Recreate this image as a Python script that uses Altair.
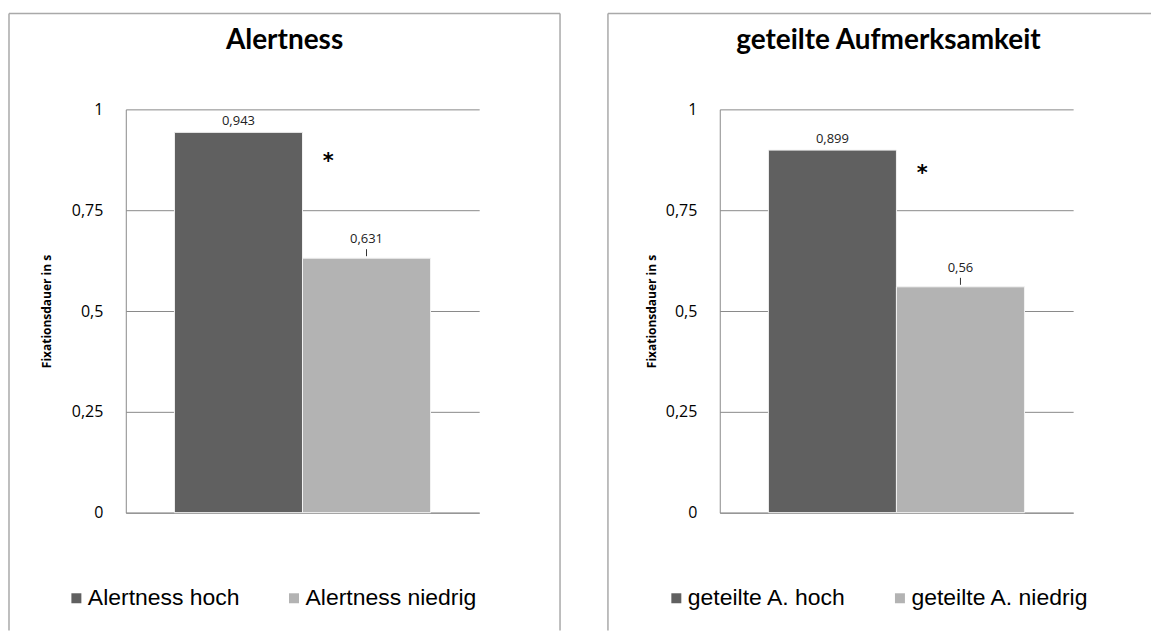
import altair as alt
import pandas as pd

# ---- data ----
panel_titles = ["Alertness", "geteilte Aufmerksamkeit"]
series_left = ["Alertness hoch", "Alertness niedrig"]
values_left = [0.943, 0.631]
series_right = ["geteilte A. hoch", "geteilte A. niedrig"]
values_right = [0.899, 0.56]
y_ticks = [0, 0.25, 0.5, 0.75, 1]
y_title = "Fixationsdauer in s"
bar_colors = ["#606060", "#b3b3b3"]
star_text = "*"

COMMA = "replace(toString(datum.value), '.', ',')"


def panel(title, series, values, frame_left, frame_right, ytitle_x, title_dx,
          legend_x, star_dy, right_line=True):
    df = pd.DataFrame({"series": series, "value": values})
    base = alt.Chart(df).transform_calculate(label=COMMA)

    x_enc = alt.X("series:N",
                  scale=alt.Scale(domain=series, paddingInner=0, paddingOuter=0.38),
                  axis=alt.Axis(labels=False, ticks=False, title=None,
                                domainColor="#8a8a8a", domainWidth=1))
    y_enc = alt.Y("value:Q",
                  scale=alt.Scale(domain=[0, 1], nice=False),
                  axis=alt.Axis(values=y_ticks, labelExpr=COMMA,
                                labelFont="Open Sans", labelFontSize=16,
                                labelColor="black", labelPadding=23, ticks=False,
                                domainColor="#8a8a8a", domainWidth=1,
                                gridColor="#8a8a8a", gridWidth=1,
                                title=y_title, titleFont="Open Sans",
                                titleFontSize=12, titleFontWeight="bold",
                                titleColor="black", titleX=ytitle_x, titleY=202,
                                titleAngle=270, titleAlign="center",
                                titleBaseline="middle"))

    bars = base.mark_bar(stroke="#f2f2f2", strokeWidth=1).encode(
        x=x_enc, y=y_enc,
        color=alt.Color("series:N",
                        scale=alt.Scale(domain=series, range=bar_colors),
                        legend=alt.Legend(orient="none", legendX=legend_x, legendY=478,
                                          direction="horizontal", title=None,
                                          symbolType="square", symbolSize=100,
                                          symbolStrokeWidth=0,
                                          labelFont="Liberation Sans",
                                          labelFontSize=23, labelColor="black",
                                          labelOffset=0, columnPadding=42,
                                          padding=0, labelLimit=400)))

    hi = base.transform_filter(alt.datum.series == series[0])
    lo = base.transform_filter(alt.datum.series == series[1])

    lab_hi = hi.mark_text(font="Open Sans", fontSize=13, color="#222",
                          baseline="middle", dy=-11).encode(
        x="series:N", y="value:Q", text="label:N")
    lab_lo = lo.mark_text(font="Open Sans", fontSize=13, color="#222",
                          baseline="middle", dy=-19).encode(
        x="series:N", y="value:Q", text="label:N")
    leader = lo.mark_rule(color="#333", strokeWidth=1, yOffset=-2,
                          y2Offset=-9).encode(
        x="series:N", y="value:Q", y2="value:Q")
    star = hi.mark_text(text=star_text, font="DejaVu Sans", fontSize=21,
                        fontWeight="bold", color="black", baseline="middle",
                        dx=90, dy=star_dy).encode(x="series:N", y="value:Q")

    fdata = alt.Data(values=[{"f": 1}])
    frame_c = "#a9a9a9"
    top_line = alt.Chart(fdata).mark_rule(color=frame_c, strokeWidth=1.5).encode(
        x=alt.value(frame_left), x2=alt.value(frame_right), y=alt.value(-96))
    left_line = alt.Chart(fdata).mark_rule(color=frame_c, strokeWidth=1.5).encode(
        x=alt.value(frame_left), y=alt.value(-96), y2=alt.value(522))
    layers = [top_line, left_line]
    if right_line:
        layers.append(alt.Chart(fdata).mark_rule(color=frame_c, strokeWidth=1.5).encode(
            x=alt.value(frame_right), y=alt.value(-96), y2=alt.value(522)))

    return alt.layer(*layers, bars, lab_hi, lab_lo, leader, star).properties(
        width=354, height=404,
        title=alt.TitleParams(text=title, font="Lato", fontSize=28,
                              fontWeight="bold", color="black", anchor="middle",
                              frame="group", baseline="bottom", offset=0,
                              dx=title_dx, dy=70))


left = panel(panel_titles[0], series_left, values_left, -117, 435, -79, -18, -61, 30)
right = panel(panel_titles[1], series_right, values_right, -112, 432, -68, -8, -55, 24,
              right_line=False)

chart = alt.hconcat(left, right, spacing=46).resolve_scale(
    x="independent", y="independent", color="independent"
).resolve_legend(color="independent").properties(
    padding={"left": 0, "top": 4, "right": 0, "bottom": 0},
    background="white",
).configure_view(strokeWidth=0)

chart.save("out.html", embed_options={"renderer": "svg", "actions": False})
